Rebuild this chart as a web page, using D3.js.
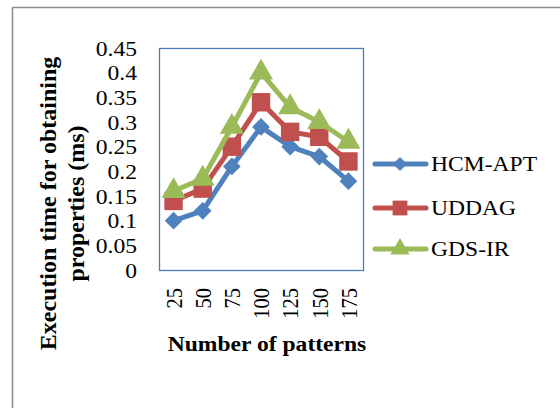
<!DOCTYPE html>
<html>
<head>
<meta charset="utf-8">
<script src="https://cdn.jsdelivr.net/npm/d3@7/dist/d3.min.js"></script>
<style>
  html, body { margin: 0; padding: 0; background: #fff; }
  svg { display: block; font-family: "Liberation Serif", "Times New Roman", serif; }
</style>
</head>
<body>
<svg id="chart" width="560" height="408"></svg>
<script>
// Number of patterns on the x axis
const categories = ["25", "50", "75", "100", "125", "150", "175"];
// Execution time (ms) per method
const hcmApt = [0.10, 0.12, 0.21, 0.29, 0.25, 0.23, 0.18];
const uddag  = [0.14, 0.165, 0.25, 0.34, 0.28, 0.27, 0.22];
const gdsIr  = [0.16, 0.185, 0.29, 0.40, 0.33, 0.30, 0.26];
const seriesNames = ["HCM-APT", "UDDAG", "GDS-IR"];
const yTicks = [0, 0.05, 0.1, 0.15, 0.2, 0.25, 0.3, 0.35, 0.4, 0.45];

const series = [
  { name: seriesNames[0], values: hcmApt, color: "#4F81BD", shape: "diamond" },
  { name: seriesNames[1], values: uddag,  color: "#C0504D", shape: "square" },
  { name: seriesNames[2], values: gdsIr,  color: "#9BBB59", shape: "triangle" }
];

const FONT = 20.5;     // label font size
const WIDEN = 1.15;    // horizontal stretch of the lettering

const svg = d3.select("#chart");

// outer chart frame
svg.append("rect")
  .attr("x", 12.5).attr("y", 7.5)
  .attr("width", 600).attr("height", 500)
  .attr("fill", "none").attr("stroke", "#8c8c8c").attr("stroke-width", 1.5);

const plot = { left: 159, right: 363, top: 48, bottom: 270 };

const x = d3.scaleBand().domain(categories).range([plot.left, plot.right]);
const y = d3.scaleLinear().domain([0, 0.45]).range([plot.bottom, plot.top]);

// plot area border
svg.append("rect")
  .attr("x", plot.left + 0.5).attr("y", plot.top + 0.5)
  .attr("width", plot.right - plot.left).attr("height", plot.bottom - plot.top)
  .attr("fill", "none").attr("stroke", "#4A7EBB").attr("stroke-width", 1.3);

// y axis labels
const yAxis = d3.axisLeft(y).tickValues(yTicks).tickSize(0).tickPadding(0)
  .tickFormat(d => String(+d.toFixed(2)));
const gy = svg.append("g").attr("transform", `translate(${137},0)`).call(yAxis);
gy.select(".domain").remove();
gy.selectAll("text")
  .attr("font-family", "Liberation Serif, Times New Roman, serif")
  .attr("font-size", FONT).attr("fill", "#000")
  .attr("x", 0).attr("dy", "0.35em")
  .attr("transform", `scale(${WIDEN},1)`);

// x axis labels, rotated
const xAxis = d3.axisBottom(x).tickSize(0).tickPadding(0);
const gx = svg.append("g").attr("transform", `translate(0,${288})`).call(xAxis);
gx.select(".domain").remove();
gx.selectAll("text")
  .attr("font-family", "Liberation Serif, Times New Roman, serif")
  .attr("font-size", FONT).attr("fill", "#000")
  .attr("transform", `scale(${WIDEN},1) rotate(-90)`)
  .attr("text-anchor", "end")
  .attr("x", 0).attr("y", 0).attr("dy", "0.35em");

// axis titles
svg.append("text")
  .attr("transform", `translate(267,351) scale(${WIDEN},1)`)
  .attr("text-anchor", "middle")
  .attr("font-size", FONT).attr("font-weight", "bold")
  .text("Number of patterns");

const yTitle = svg.append("text")
  .attr("transform", "translate(0,203.5) rotate(-90)")
  .attr("text-anchor", "middle")
  .attr("font-size", 24).attr("font-weight", "bold");
yTitle.append("tspan").attr("x", 0).attr("y", 56).text("Execution time for obtaining");
yTitle.append("tspan").attr("x", 0).attr("y", 84).text("properties (ms)");

const symbolFor = {
  diamond: d3.symbol().type(d3.symbolDiamond2).size(200),
  square: d3.symbol().type(d3.symbolSquare).size(340),
  triangle: d3.symbol().type(d3.symbolTriangle).size(250)
};

const line = d3.line()
  .x((d, i) => x(categories[i]) + x.bandwidth() / 2)
  .y(d => y(d));

series.forEach(s => {
  svg.append("path")
    .attr("d", line(s.values))
    .attr("fill", "none")
    .attr("stroke", s.color)
    .attr("stroke-width", 5)
    .attr("stroke-linejoin", "round")
    .attr("stroke-linecap", "round");
  svg.append("g").selectAll("path")
    .data(s.values)
    .join("path")
    .attr("d", symbolFor[s.shape])
    .attr("transform", (d, i) => `translate(${x(categories[i]) + x.bandwidth() / 2},${y(d)})`)
    .attr("fill", s.color);
});

// legend
const legendY = [164, 208, 249];
series.forEach((s, i) => {
  const g = svg.append("g").attr("transform", `translate(0,${legendY[i]})`);
  g.append("line")
    .attr("x1", 375).attr("x2", 426).attr("y1", 0).attr("y2", 0)
    .attr("stroke", s.color).attr("stroke-width", 5).attr("stroke-linecap", "round");
  g.append("path")
    .attr("d", symbolFor[s.shape])
    .attr("transform", "translate(400,0) scale(0.8)")
    .attr("fill", s.color);
  g.append("text")
    .attr("transform", `translate(431,0) scale(${WIDEN},1)`)
    .attr("dy", "0.35em")
    .attr("font-size", FONT).attr("fill", "#000")
    .text(s.name);
});
</script>
</body>
</html>
